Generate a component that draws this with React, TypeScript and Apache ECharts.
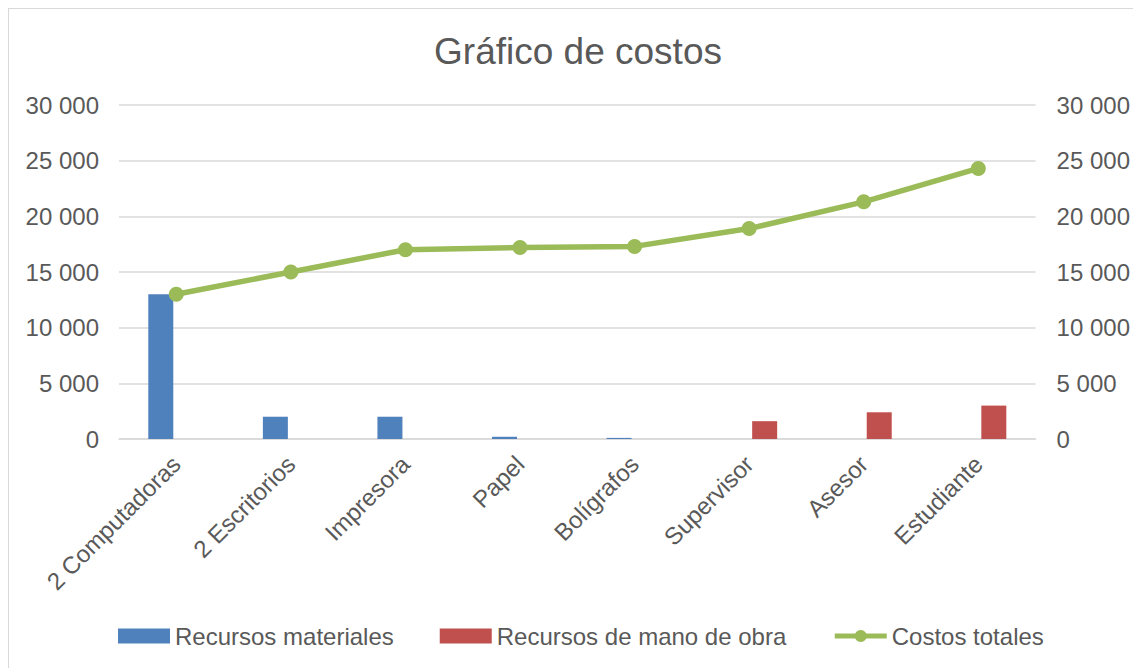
import React, { useEffect, useRef } from "react";
import * as echarts from "echarts";

const categories = [
  "2 Computadoras",
  "2 Escritorios",
  "Impresora",
  "Papel",
  "Bolígrafos",
  "Supervisor",
  "Asesor",
  "Estudiante",
];
const recursosMateriales = [13000, 2000, 2000, 200, 100, null, null, null];
const recursosManoObra = [null, null, null, null, null, 1600, 2400, 3000];
const costosTotales = [13000, 15000, 17000, 17200, 17300, 18900, 21300, 24300];

const FONT = "'Liberation Sans', Arial, sans-serif";
const TEXT = "#595959";
const GRID = "#d9d9d9";
const GREEN = "#9bbb59";

const fmt = (v: number) => String(v).replace(/\B(?=(\d{3})+(?!\d))/g, " ");

export default function App() {
  const ref = useRef<HTMLDivElement>(null);
  useEffect(() => {
    document.body.style.margin = "0";
    document.documentElement.style.overflow = "hidden";
    if (!ref.current) return;
    const chart = echarts.init(ref.current, null, { renderer: "svg" });
    const yAxisCommon = {
      type: "value" as const,
      min: 0,
      max: 30000,
      interval: 5000,
      axisLine: { show: false },
      axisTick: { show: false },
      splitLine: { show: true, lineStyle: { color: GRID, width: 1.5 } },
      axisLabel: {
        color: TEXT,
        fontSize: 24,
        fontFamily: FONT,
        formatter: (v: number) => fmt(v),
      },
    };
    chart.setOption({
      animation: false,
      backgroundColor: "#ffffff",
      textStyle: { fontFamily: FONT },
      title: {
        text: "Gráfico de costos",
        left: 564,
        top: 19,
        textAlign: "center",
        textStyle: { color: TEXT, fontSize: 37, fontWeight: "normal", fontFamily: FONT },
      },
      grid: { left: 110, right: 95, top: 96, bottom: 229, containLabel: false },
      legend: {
        left: 109,
        top: 615,
        padding: 0,
        itemWidth: 52,
        itemHeight: 15,
        itemGap: 46,
        textStyle: { color: TEXT, fontSize: 24, fontFamily: FONT },
        data: [
          { name: "Recursos materiales", icon: "rect" },
          { name: "Recursos de mano de obra", icon: "rect" },
          { name: "Costos totales", lineStyle: { width: 5, color: GREEN }, itemStyle: { color: GREEN } },
        ],
      },
      xAxis: {
        type: "category",
        data: categories,
        axisLine: { show: true, lineStyle: { color: GRID, width: 1.5 } },
        axisTick: { show: false },
        axisLabel: {
          color: TEXT,
          fontSize: 24,
          fontFamily: FONT,
          rotate: 45,
          margin: 21,
          interval: 0,
        },
      },
      yAxis: [
        { ...yAxisCommon, position: "left", axisLabel: { ...yAxisCommon.axisLabel, margin: 20 } },
        {
          ...yAxisCommon,
          position: "right",
          splitLine: { show: false },
          axisLabel: { ...yAxisCommon.axisLabel, margin: 21 },
        },
      ],
      series: [
        {
          name: "Recursos materiales",
          type: "bar",
          data: recursosMateriales,
          barWidth: 25,
          barGap: "24%",
          itemStyle: { color: "#4f81bd" },
        },
        {
          name: "Recursos de mano de obra",
          type: "bar",
          data: recursosManoObra,
          barWidth: 25,
          barGap: "24%",
          itemStyle: { color: "#c0504d" },
        },
        {
          name: "Costos totales",
          type: "line",
          yAxisIndex: 1,
          data: costosTotales,
          symbol: "circle",
          symbolSize: 15,
          lineStyle: { color: GREEN, width: 5.5 },
          itemStyle: { color: GREEN },
        },
      ],
    });
    return () => chart.dispose();
  }, []);
  return (
    <div
      style={{
        width: 1133,
        height: 668,
        boxSizing: "border-box",
        paddingLeft: 8,
        paddingTop: 8,
        overflow: "hidden",
      }}
    >
      <div
        ref={ref}
        style={{
          width: 1125,
          height: 660,
          boxSizing: "border-box",
          borderTop: "1px solid #d9d9d9",
          borderLeft: "1px solid #d9d9d9",
        }}
      />
    </div>
  );
}
